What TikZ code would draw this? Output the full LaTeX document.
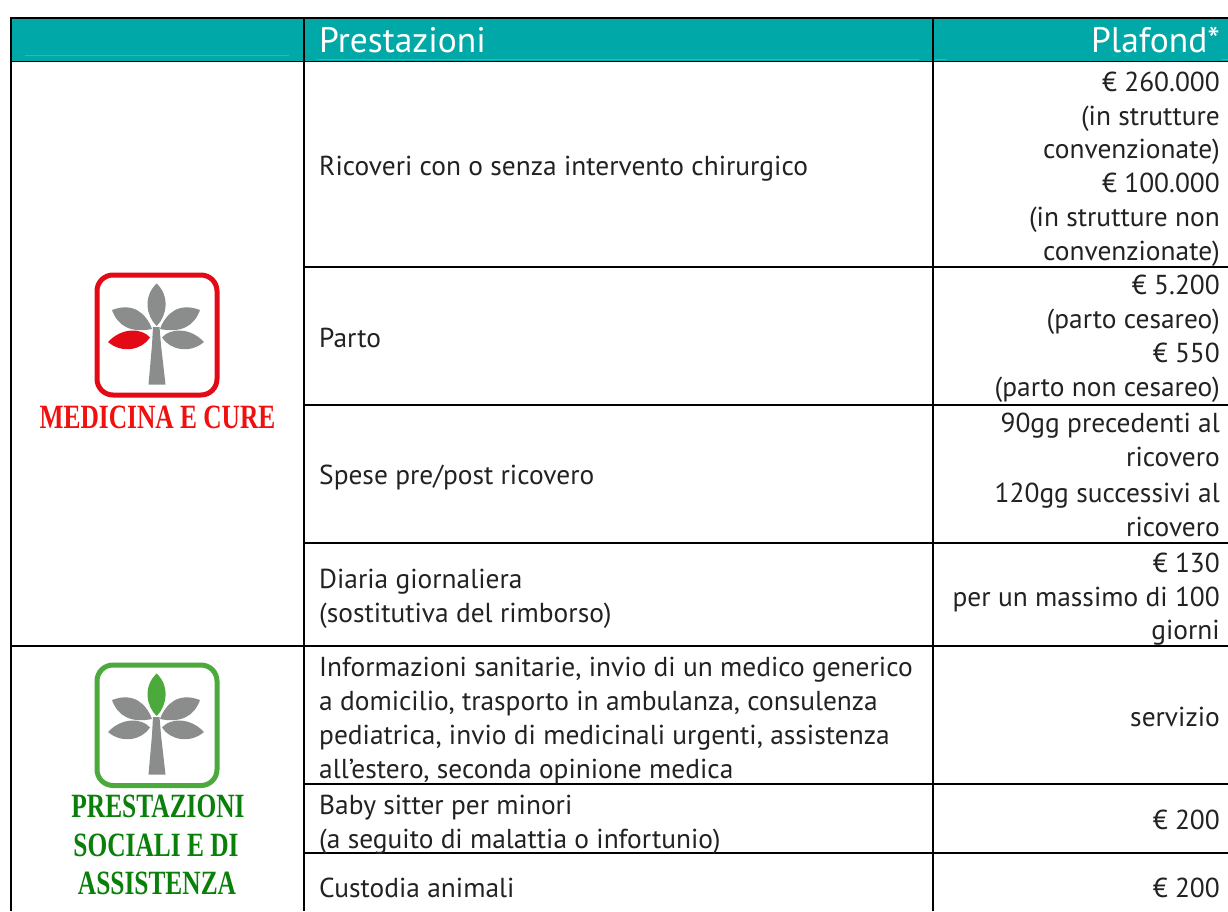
\documentclass[tikz,border=0pt]{standalone}
\usepackage{fontspec}
\setmainfont{PT Sans}
\newfontfamily\headserif{Liberation Serif}
\definecolor{teal1}{HTML}{00A9A7}
\definecolor{teal2}{HTML}{2DB9B6}
\definecolor{logored}{HTML}{E30A17}
\definecolor{logogreen}{HTML}{4CA93C}
\definecolor{leafgray}{HTML}{8B8C8C}
\definecolor{titlered}{HTML}{F01010}
\definecolor{titlegreen}{HTML}{0A800A}
\definecolor{bodytext}{HTML}{222222}
\newcommand{\treelogo}[5]{%
  \begin{scope}[yshift=#1]
    \draw[rounded corners=16pt,line width=5pt,draw=#4] (97,275) rectangle (217,#5);
    \fill[leafgray] (148.5,384.5) -- (165.5,384.5) -- (161,345) -- (159.5,327) -- (153,327) -- (152,345) -- cycle;
    \fill[#3] (156.7,283.5) .. controls (143,296) and (146,316) .. (156.7,326) .. controls (167,316) and (170,296) .. (156.7,283.5) -- cycle;
    \fill[leafgray] (112,310) .. controls (133,302) and (146,313) .. (152,329) .. controls (132,333) and (118,327) .. (112,310) -- cycle;
    \fill[leafgray] (200,310) .. controls (179,302) and (166,313) .. (160,329) .. controls (180,333) and (194,327) .. (200,310) -- cycle;
    \fill[#2] (108,342) .. controls (122,327) and (142,328) .. (150,337.5) .. controls (142,350) and (122,354) .. (108,342) -- cycle;
    \fill[leafgray] (204,342) .. controls (190,327) and (170,328) .. (162,337.5) .. controls (170,350) and (190,354) .. (204,342) -- cycle;
  \end{scope}}
\tikzset{
  gridline/.style={line width=1.9pt,draw=black},
  head/.style={inner sep=0pt,text=white,font=\fontsize{35.5}{38}\selectfont},
  cellL/.style={anchor=base west,inner sep=0pt,text=bodytext,font=\fontsize{27.4}{30}\selectfont},
  cellR/.style={anchor=base east,inner sep=0pt,text=bodytext,font=\fontsize{27.4}{30}\selectfont},
  title/.style={inner sep=0pt,anchor=base,font=\headserif\bfseries\fontsize{33}{36}\selectfont}
}
\begin{document}
\begin{tikzpicture}[x=1pt,y=-1pt]
\useasboundingbox (0,0) rectangle (1228,911);
\fill[white] (0,0) rectangle (1228,911);
\fill[teal1] (11,18) rectangle (1228,61.5);
\draw[teal2,line width=0.8pt] (25,55) -- (289,55);
\draw[teal2,line width=0.8pt] (318,59) -- (919,59);
\draw[teal2,line width=0.8pt] (935,59) -- (947,59);
\draw[teal2,line width=0.8pt] (1221,59) -- (1228,59);
% grid
\draw[gridline] (11,911) -- (11,18) -- (1228,18);
\draw[gridline] (11,61.5) -- (1228,61.5);
\draw[gridline] (304,18) -- (304,911);
\draw[gridline] (933,18) -- (933,911);
\draw[gridline] (304,267) -- (1228,267);
\draw[gridline] (304,405) -- (1228,405);
\draw[gridline] (304,543) -- (1228,543);
\draw[gridline] (11,646) -- (1228,646);
\draw[gridline] (304,784) -- (1228,784);
\draw[gridline] (304,853) -- (1228,853);
% headers
\node[head,anchor=base west] (hp) at (319,52) {Prestazioni};
\node[head,anchor=base east] (hq) at (1220,52) {Plafond*};
% left cells
\node[cellL] (a1) at (319,175) {Ricoveri con o senza intervento chirurgico};
\node[cellL] (a2) at (319,347) {Parto};
\node[cellL] (a3) at (319,484) {Spese pre/post ricovero};
\node[cellL] (a4) at (319,588) {Diaria giornaliera};
\node[cellL] (a5) at (319,622) {(sostitutiva del rimborso)};
\node[cellL] (b1) at (319,676) {Informazioni sanitarie, invio di un medico generico};
\node[cellL] (b2) at (319,710) {a domicilio, trasporto in ambulanza, consulenza};
\node[cellL] (b3) at (319,744) {pediatrica, invio di medicinali urgenti, assistenza};
\node[cellL] (b4) at (319,778) {all’estero, seconda opinione medica};
\node[cellL] (c1) at (319,814) {Baby sitter per minori};
\node[cellL] (c2) at (319,848) {(a seguito di malattia o infortunio)};
\node[cellL] (d1) at (319,897) {Custodia animali};
% right cells
\node[cellR] (r1) at (1220,91) {€ 260.000};
\node[cellR] (r2) at (1220,125) {(in strutture};
\node[cellR] (r3) at (1220,158) {convenzionate)};
\node[cellR] (r4) at (1220,192) {€ 100.000};
\node[cellR] (r5) at (1220,226) {(in strutture non};
\node[cellR] (r6) at (1220,260) {convenzionate)};
\node[cellR] (r7) at (1220,294) {€ 5.200};
\node[cellR] (r8) at (1220,328) {(parto cesareo)};
\node[cellR] (r9) at (1220,362) {€ 550};
\node[cellR] (r10) at (1220,396) {(parto non cesareo)};
\node[cellR] (r11) at (1220,432) {90gg precedenti al};
\node[cellR] (r12) at (1220,466) {ricovero};
\node[cellR] (r13) at (1220,502) {120gg successivi al};
\node[cellR] (r14) at (1220,536) {ricovero};
\node[cellR] (r15) at (1220,572) {€ 130};
\node[cellR] (r16) at (1220,606) {per un massimo di 100};
\node[cellR] (r17) at (1220,639) {giorni};
\node[cellR] (r18) at (1220,726) {servizio};
\node[cellR] (r19) at (1220,829) {€ 200};
\node[cellR] (r20) at (1220,897) {€ 200};
% logos
\treelogo{0pt}{logored}{leafgray}{logored}{395}
\treelogo{-390pt}{leafgray}{logogreen}{logogreen}{395.5}
\node[title,text=titlered] (t1) at (157.5,428) {\scalebox{0.77}[1.03]{MEDICINA E CURE}};
\node[title,text=titlegreen] (t2) at (158,817.5) {\scalebox{0.77}[1.03]{PRESTAZIONI}};
\node[title,text=titlegreen] (t3) at (156,856) {\scalebox{0.77}[1.03]{SOCIALI E DI}};
\node[title,text=titlegreen] (t4) at (157,894) {\scalebox{0.77}[1.03]{ASSISTENZA}};
\end{tikzpicture}
\end{document}
